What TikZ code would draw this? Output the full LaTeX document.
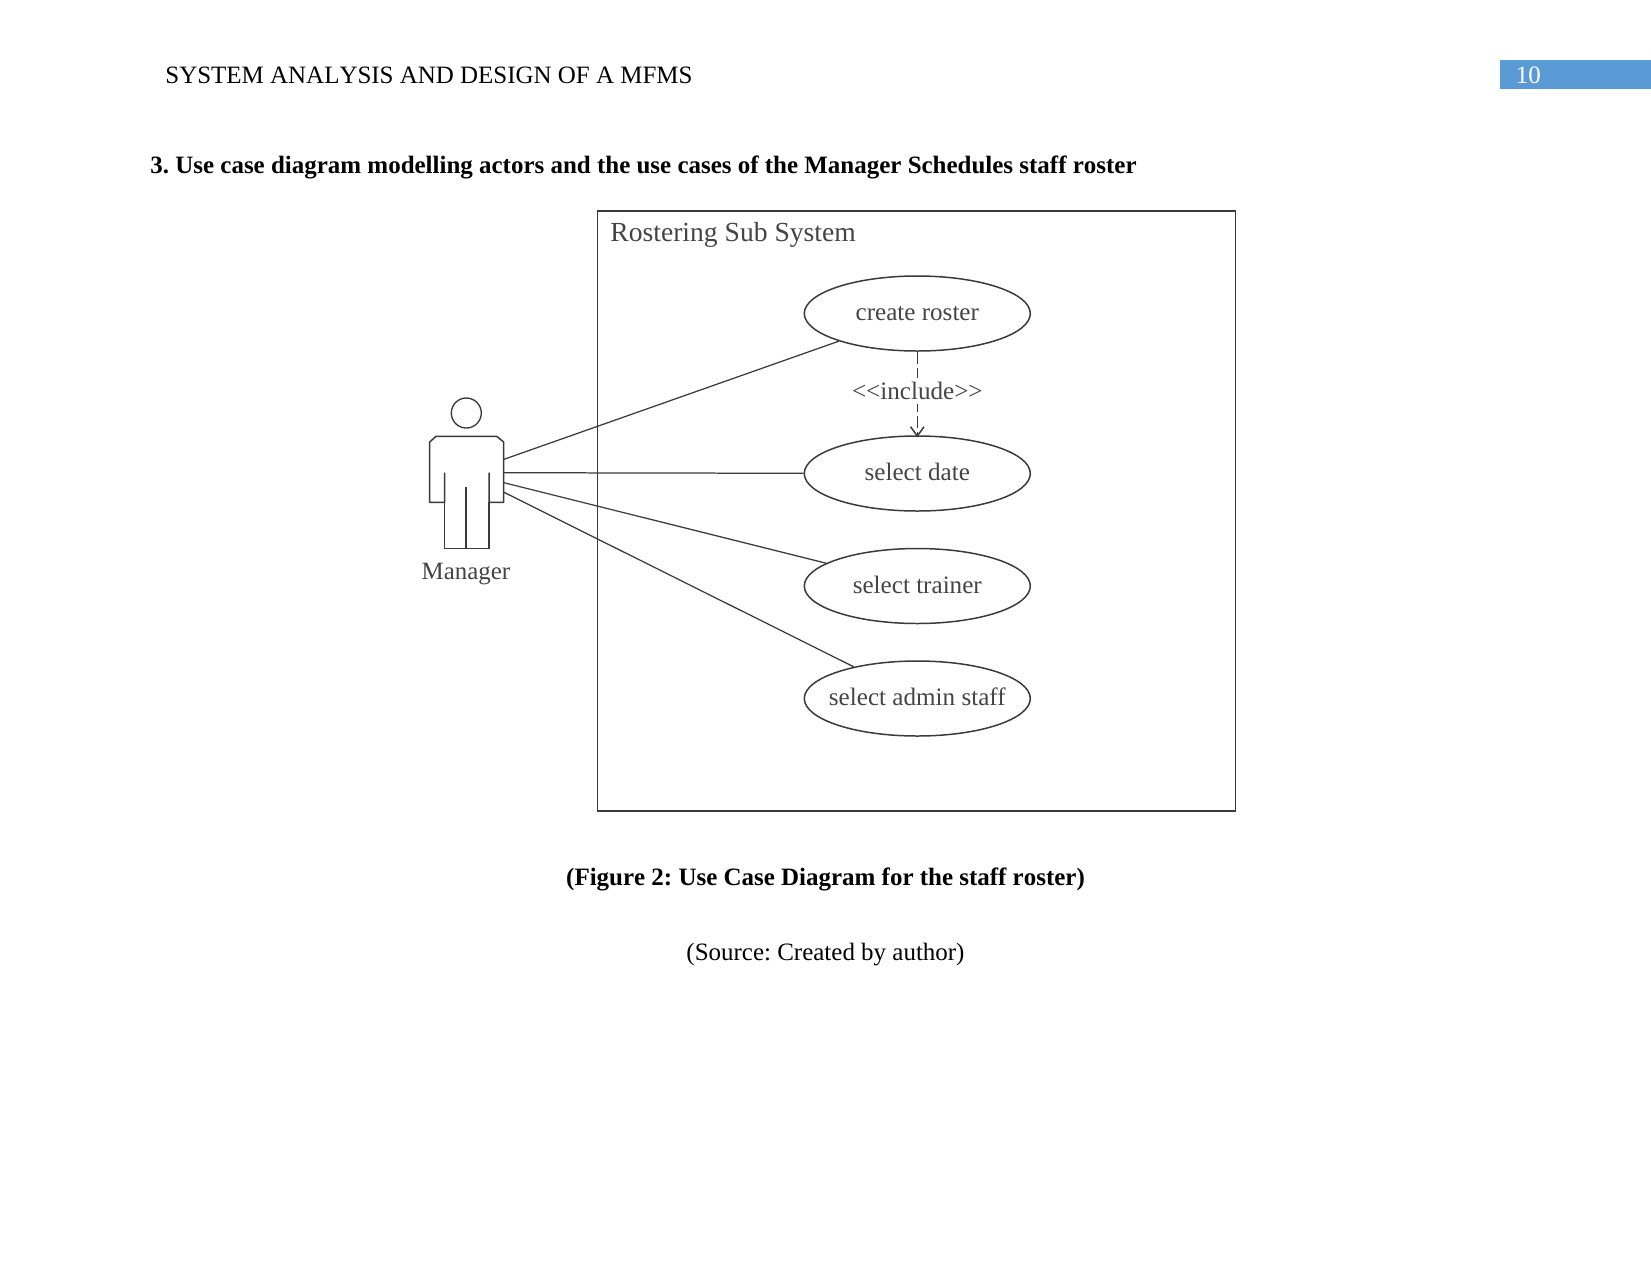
\documentclass[tikz,border=0pt]{standalone}
\usepackage{fontspec}
\setmainfont[Kerning=Off]{Liberation Serif}
\newfontfamily\diagramfont{Liberation Serif}
\usetikzlibrary{shapes.geometric,arrows.meta}
\definecolor{tabblue}{HTML}{5B9BD5}
\definecolor{inkdark}{HTML}{3A3A3A}
\definecolor{inktext}{HTML}{444444}
% use case label: takes no room, so every ellipse keeps the same size
\newcommand{\uclabel}[1]{\smash{\makebox[0pt]{\raisebox{-3.5bp}{#1}}}}
\tikzset{
  usecase/.style={draw=inkdark,line width=0.72pt,ellipse,minimum width=226\pxu,minimum height=75\pxu,inner sep=0pt,font=\diagramfont\fontsize{12.1}{14}\selectfont,text=inktext},
  assoc/.style={draw=inkdark,line width=0.6pt},
  actorline/.style={draw=inkdark,line width=0.72pt},
  pagetext/.style={anchor=base west,inner sep=0pt,font=\fontsize{12.03}{14}\selectfont},
  pagemid/.style={anchor=base,inner sep=0pt,font=\fontsize{12.03}{14}\selectfont},
  difftext/.style={inner sep=0pt,text=inktext}
}
\newlength{\pxu}
\setlength{\pxu}{0.48bp}
\begin{document}
\frenchspacing
\begin{tikzpicture}[x=0.48bp,y=-0.48bp]
\useasboundingbox (0,0) rectangle (1651,1275);
% running head and page number tab
\node[pagetext] (head) at (165,83) {SYSTEM ANALYSIS AND DESIGN OF A MFMS};
\fill[tabblue] (1500,60) rectangle (1651,89);
\node[pagetext,text=white] (page) at (1515.5,83) {10};
% section heading
\node[pagetext,font=\fontsize{12.03}{14}\selectfont\bfseries] (title) at (150,173) {3. Use case diagram modelling actors and the use cases of the Manager Schedules staff roster};
% system boundary
\node[draw=inkdark,line width=0.72pt,minimum width=638\pxu,minimum height=600\pxu,inner sep=0pt] (system) at (916.7,511) {};
\node[difftext,anchor=base west,font=\diagramfont\fontsize{13.3}{15}\selectfont] (systitle) at (610,241.5) {Rostering Sub System};
% use cases
\node[usecase] (create) at (917.3,313.5) {\uclabel{create roster}};
\node[usecase] (date) at (917.3,473.5) {\uclabel{select date}};
\node[usecase] (trainer) at (917.3,586) {\uclabel{select trainer}};
\node[usecase] (admin) at (917.3,698.5) {\uclabel{select admin staff}};
% actor figure
\coordinate (m1) at (504,459.3);
\coordinate (m2) at (504,472.7);
\coordinate (m3) at (504,482.7);
\coordinate (m4) at (504,492.3);
\node[draw=inkdark,line width=0.65pt,circle,minimum size=30\pxu,inner sep=0pt] (mhead) at (466.3,413) {};
\draw[actorline,line join=round] (444.7,472.7) -- (444.7,502.3) -- (429.7,502.3) -- (429.7,442) -- (436,436.3) -- (496.7,436.3) -- (503.7,442) -- (503.7,502.3) -- (489,502.3) -- (489,472.7);
\draw[actorline] (444.7,502.3) -- (444.7,548.7) -- (489,548.7) -- (489,502.3);
\draw[actorline] (466,487.3) -- (466,548.7);
\node[difftext,anchor=base,font=\diagramfont\fontsize{12}{14}\selectfont] (mlabel) at (466,579) {Manager};
% associations
\draw[assoc] (m1) -- (create);
\draw[assoc] (m2) -- (date);
\draw[assoc] (m3) -- (trainer);
\draw[assoc] (m4) -- (admin);
% include dependency
\draw[assoc,line width=0.72pt,dash pattern=on 12\pxu off 4\pxu,shorten >=-1pt,-{Straight Barb[length=4.5pt,width=6.5pt]}] (create) -- (date) node[pos=0.47,fill=white,difftext,font=\diagramfont\fontsize{12.1}{14}\selectfont,inner sep=2pt] (inc) {<{}<include>{}>};
% caption lines
\node[pagemid,font=\fontsize{12.03}{14}\selectfont\bfseries] (cap) at (825.5,885) {(Figure 2: Use Case Diagram for the staff roster)};
\node[pagemid] (src) at (825.5,960) {(Source: Created by author)};
\end{tikzpicture}
\end{document}
